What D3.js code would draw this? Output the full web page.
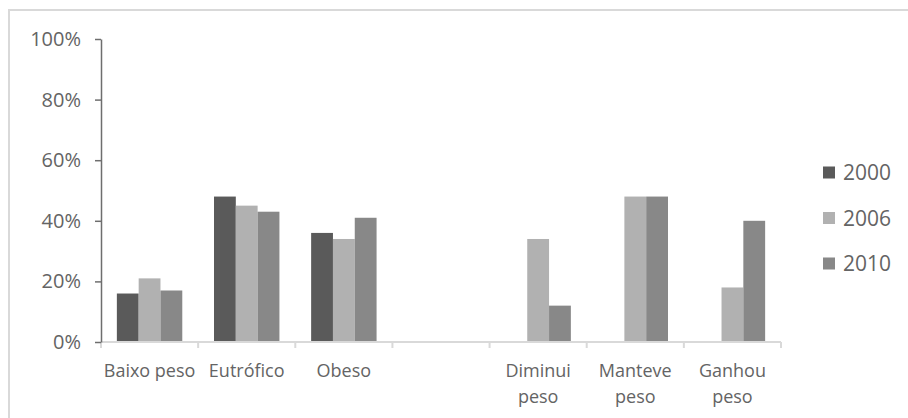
<!DOCTYPE html>
<html>
<head>
<meta charset="utf-8">
<script src="https://cdn.jsdelivr.net/npm/d3@7"></script>
<style>
  html, body { margin: 0; padding: 0; background: #ffffff; }
  svg { display: block; }
  text { font-family: "Open Sans", "Noto Sans", sans-serif; fill: #646464; }
</style>
</head>
<body>
<svg id="chart" width="908" height="418"></svg>
<script>
// ---- data ----
const categories = ["Baixo peso", "Eutrófico", "Obeso", "", "Diminui\npeso", "Manteve\npeso", "Ganhou\npeso"];
const seriesNames = ["2000", "2006", "2010"];
const values2000 = [0.16, 0.48, 0.36, null, null, null, null];
const values2006 = [0.21, 0.45, 0.34, null, 0.34, 0.48, 0.18];
const values2010 = [0.17, 0.43, 0.41, null, 0.12, 0.48, 0.40];
const yTicks = [0, 0.2, 0.4, 0.6, 0.8, 1.0];
const colors = ["#5a5a5a", "#b1b1b1", "#888888"];

const seriesValues = [values2000, values2006, values2010];

const svg = d3.select("#chart");

// outer border (chart area frame)
svg.append("rect")
  .attr("x", 9).attr("y", 10)
  .attr("width", 920).attr("height", 430)
  .attr("fill", "none")
  .attr("stroke", "#d9d9d9")
  .attr("stroke-width", 2);

const plot = { left: 101, right: 781, top: 39, bottom: 342 };

const x = d3.scaleBand()
  .domain(d3.range(categories.length))
  .range([plot.left, plot.right])
  .paddingInner(0).paddingOuter(0);

const xSub = d3.scaleBand()
  .domain(seriesNames)
  .range([0, x.bandwidth()])
  .paddingInner(0)
  .paddingOuter(0.727);

const y = d3.scaleLinear().domain([0, 1]).range([plot.bottom, plot.top]);

// bars
const barData = [];
categories.forEach((c, i) => {
  seriesNames.forEach((s, j) => {
    const v = seriesValues[j][i];
    if (v !== null && v !== undefined) barData.push({ i, s, j, v });
  });
});

svg.append("g").selectAll("rect")
  .data(barData)
  .join("rect")
  .attr("x", d => x(d.i) + xSub(d.s))
  .attr("y", d => y(d.v))
  .attr("width", xSub.bandwidth())
  .attr("height", d => y(0) - y(d.v))
  .attr("fill", d => colors[d.j]);

// x axis line
const xAxisG = svg.append("g").attr("transform", `translate(0,${plot.bottom})`);
xAxisG.append("line")
  .attr("x1", plot.left).attr("x2", plot.right)
  .attr("y1", 0).attr("y2", 0)
  .attr("stroke", "#d9d9d9").attr("stroke-width", 2);
// boundary ticks
const boundaries = x.domain().map(i => x(i)).concat([x(categories.length - 1) + x.bandwidth()]);
xAxisG.selectAll("line.bt")
  .data(boundaries)
  .join("line")
  .attr("class", "bt")
  .attr("x1", d => d).attr("x2", d => d)
  .attr("y1", 0).attr("y2", 6)
  .attr("stroke", "#d9d9d9").attr("stroke-width", 2);

// category labels
const labelG = svg.append("g");
categories.forEach((c, i) => {
  const lines = c.split("\n");
  const t = labelG.append("text")
    .attr("x", x(i) + x.bandwidth() / 2)
    .attr("y", 377)
    .attr("text-anchor", "middle")
    .style("font-size", "18px");
  lines.forEach((ln, k) => {
    t.append("tspan")
      .attr("x", x(i) + x.bandwidth() / 2)
      .attr("dy", k === 0 ? 0 : 26)
      .text(ln);
  });
});

// y axis
const yAxis = d3.axisLeft(y)
  .tickValues(yTicks)
  .tickFormat(d3.format(".0%"))
  .tickSize(6)
  .tickSizeOuter(0)
  .tickPadding(14);

const yG = svg.append("g")
  .attr("transform", `translate(${plot.left},0)`)
  .call(yAxis);
yG.select(".domain").attr("stroke", "#6e6e6e").attr("stroke-width", 1.5);
yG.selectAll(".tick line").attr("stroke", "#6e6e6e").attr("stroke-width", 1.5);
yG.selectAll(".tick text")
  .style("font-size", "20px")
  .style("font-family", "'Open Sans', 'Noto Sans', sans-serif")
  .attr("fill", "#646464");

// legend
const legend = svg.append("g");
seriesNames.forEach((s, j) => {
  const cy = 172.5 + j * 45.5;
  legend.append("rect")
    .attr("x", 823).attr("y", cy - 6)
    .attr("width", 12).attr("height", 12)
    .attr("fill", colors[j]);
  legend.append("text")
    .attr("x", 843).attr("y", cy)
    .attr("dy", "0.36em")
    .style("font-size", "21px")
    .text(s);
});
</script>
</body>
</html>
